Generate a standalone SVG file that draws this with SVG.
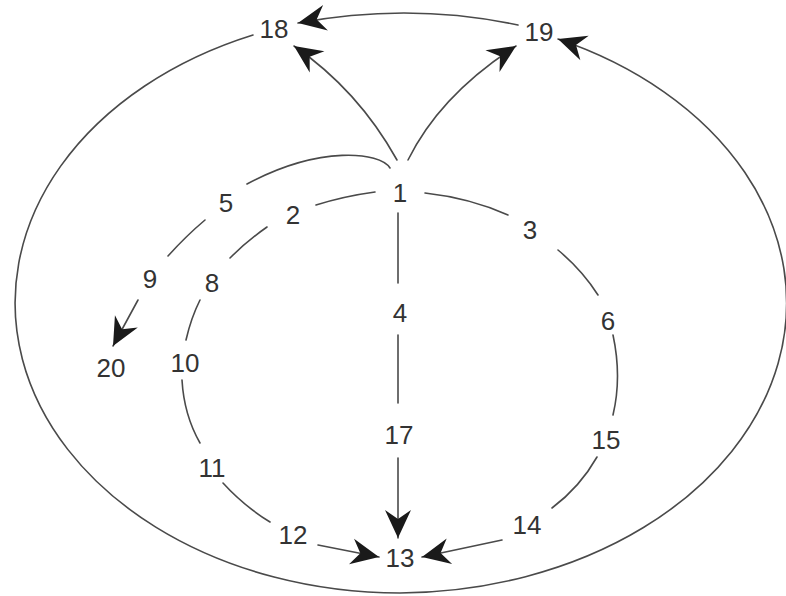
<svg xmlns="http://www.w3.org/2000/svg" width="786" height="596" viewBox="0 0 786 596">
<defs>
<style>
.c{fill:none;stroke:#4a4a4a;stroke-width:1.6;stroke-linecap:round}
.a{marker-end:url(#ah)}
text{font-family:"Liberation Sans",Arial,sans-serif;font-size:26px;fill:#333;text-anchor:middle}
</style>
<marker id="ah" markerUnits="userSpaceOnUse" viewBox="-30 -15 32 30" refX="0" refY="0" markerWidth="32" markerHeight="30" orient="auto">
<path d="M0,0 L-28,-13 L-19,0 L-28,13 Z" fill="#1a1a1a"/>
</marker>
</defs>
<rect width="786" height="596" fill="#fff"/>
<g id="connectors">
<path class="c a" d="M253 35 A385 290 0 0 0 400 593 A390 290 0 0 0 558 39"/>
<path class="c a" d="M518 25 Q410 2 298 23"/>
<path class="c a" d="M397 160 Q358 90 294 46"/>
<path class="c a" d="M408 160 Q440 95 516 46"/>
<path class="c" d="M390 168 C380 152 320 145 247 184"/>
<path class="c" d="M205 220 Q186 236 168 256"/>
<path class="c a" d="M138 300 L113 346"/>
<path class="c" d="M375 192 Q345 196 316 205"/>
<path class="c" d="M267 227 Q247 241 230 258"/>
<path class="c" d="M200 300 Q191 318 186 340"/>
<path class="c" d="M182 380 Q184 415 200 443"/>
<path class="c" d="M223 483 Q244 506 270 522"/>
<path class="c a" d="M318 545 L379 557"/>
<path class="c" d="M425 193 Q470 198 508 215"/>
<path class="c" d="M558 250 Q582 270 598 295"/>
<path class="c" d="M613 335 Q622 377 613 415"/>
<path class="c" d="M597 457 Q580 487 552 508"/>
<path class="c a" d="M502 540 L422 557"/>
<path class="c" d="M398 213 L398 283"/>
<path class="c" d="M398 335 L398 403"/>
<path class="c a" d="M398 458 L398 538"/>
</g>
<g id="n18"><text x="274" y="38">18</text></g>
<g id="n19"><text x="539" y="41">19</text></g>
<g id="n1"><text x="400" y="202">1</text></g>
<g id="n5"><text x="226" y="212">5</text></g>
<g id="n2"><text x="293" y="224">2</text></g>
<g id="n3"><text x="530" y="239">3</text></g>
<g id="n9"><text x="150" y="288">9</text></g>
<g id="n8"><text x="212" y="292">8</text></g>
<g id="n4"><text x="400" y="322">4</text></g>
<g id="n6"><text x="608" y="330">6</text></g>
<g id="n20"><text x="111" y="377">20</text></g>
<g id="n10"><text x="185" y="372">10</text></g>
<g id="n17"><text x="399" y="444">17</text></g>
<g id="n15"><text x="606" y="449">15</text></g>
<g id="n11"><text x="212" y="477">11</text></g>
<g id="n14"><text x="527" y="534">14</text></g>
<g id="n12"><text x="293" y="544">12</text></g>
<g id="n13"><text x="400" y="567">13</text></g>
</svg>
